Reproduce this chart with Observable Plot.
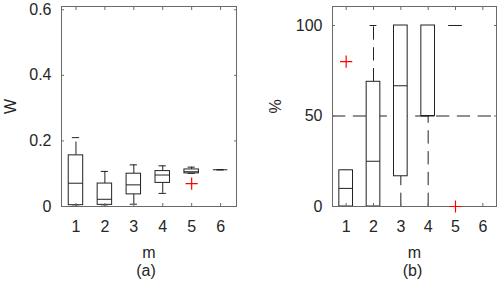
<!DOCTYPE html>
<html><head><meta charset="utf-8">
<script src="https://cdn.jsdelivr.net/npm/d3@7"></script>
<script src="https://cdn.jsdelivr.net/npm/@observablehq/plot@0.6"></script>
<style>
html,body{margin:0;padding:0;background:#fff;}
#wrap{display:flex;width:500px;height:284px;font-family:"Liberation Sans",Arial,sans-serif;}
.panel{width:250px;height:284px;}
.panel svg{display:block;}
.cap{height:22px;line-height:17px;text-align:center;font-size:16px;color:#262626;}
</style></head><body><div id="wrap"></div>
<script>
// categories
const mCats = [1, 2, 3, 4, 5, 6];

// panel (a): W
const wMin = [0.001, 0.001, 0.007, 0.040, 0.101, 0.112];
const wQ1  = [0.004, 0.005, 0.037, 0.072, 0.101, 0.112];
const wMed = [0.071, 0.022, 0.066, 0.096, 0.106, 0.112];
const wQ3  = [0.156, 0.070, 0.100, 0.108, 0.113, 0.112];
const wMax = [0.210, 0.107, 0.127, 0.124, 0.120, 0.112];
const wOutM = [5];
const wOutV = [0.070];
const wTicks = [0, 0.2, 0.4, 0.6];
const wTickLabels = ["0", "0.2", "0.4", "0.6"];

// panel (b): %
const pMin = [0, 0, 0, 0, 100, 0];
const pQ1  = [0, 0, 16.7, 50, 100, 0];
const pMed = [10, 25, 66.7, 50, 100, 0];
const pQ3  = [20, 68.9, 100, 100, 100, 0];
const pMax = [20, 100, 100, 100, 100, 0];
const pOutM = [1, 5];
const pOutV = [80, 0];
const pTicks = [0, 50, 100];
const pTickLabels = ["0", "50", "100"];
const pRef = [50];

const ink = "#262626";
const boxInk = "#222";
const frameInk = "#6a6a6a";
const dash = "13.3,7.5";
const fs = 16;

function rows(mn, q1, md, q3, mx) {
  return mCats.map((m, i) => ({m, min: mn[i], q1: q1[i], med: md[i], q3: q3[i], max: mx[i]}));
}
function outs(ms, vs) { return ms.map((m, i) => ({m, v: vs[i]})); }

function boxMarks(data) {
  return [
    Plot.ruleX(data, {x: "m", y1: "q3", y2: "max", stroke: boxInk, strokeDasharray: dash}),
    Plot.ruleX(data, {x: "m", y1: "min", y2: "q1", stroke: boxInk, strokeDasharray: dash}),
    Plot.ruleY(data, {y: "max", x1: d => d.m - 0.125, x2: d => d.m + 0.125, stroke: boxInk}),
    Plot.ruleY(data, {y: "min", x1: d => d.m - 0.125, x2: d => d.m + 0.125, stroke: boxInk}),
    Plot.rect(data.filter(d => d.q3 > d.q1), {x1: d => d.m - 0.25, x2: d => d.m + 0.25, y1: "q1", y2: "q3", fill: "white", stroke: boxInk}),
    Plot.ruleY(data, {y: "med", x1: d => d.m - 0.25, x2: d => d.m + 0.25, stroke: boxInk})
  ];
}

function panel({data, out, ticks, tickLabels, yDomain, xDomain, marginLeft, marginRight, ylabel, labelOffsetY, extra}) {
  return Plot.plot({
    width: 250, height: 262,
    marginLeft, marginRight, marginTop: 6, marginBottom: 56,
    style: {fontFamily: "'Liberation Sans', Arial, sans-serif", fontSize: fs + "px", color: ink, background: "white", overflow: "visible"},
    x: {domain: xDomain},
    y: {domain: yDomain},
    marks: [
      ...(extra || []),
      ...boxMarks(data),
      Plot.frame({stroke: frameInk}),
      Plot.axisX({ticks: mCats, tickFormat: d => String(d), tickSize: -3, tickPadding: 17, stroke: frameInk, fill: ink, fontSize: fs, label: "m", labelAnchor: "center", labelOffset: 51, labelArrow: "none"}),
      Plot.axisX({anchor: "top", ticks: mCats, tickFormat: () => "", tickSize: -3, stroke: frameInk, label: null}),
      Plot.axisY({ticks, tickFormat: (d, i) => tickLabels[ticks.indexOf(d)], tickSize: -3, tickPadding: 13, stroke: frameInk, fill: ink, fontSize: fs, label: ylabel, labelAnchor: "center", labelOffset: labelOffsetY, labelArrow: "none"}),
      Plot.axisY({anchor: "right", ticks, tickFormat: () => "", tickSize: -3, stroke: frameInk, label: null}),
      Plot.dot(out, {x: "m", y: "v", symbol: "plus", r: 4, stroke: "red", strokeWidth: 1.2})
    ]
  });
}

const wrap = document.getElementById("wrap");

const pa = document.createElement("div"); pa.className = "panel";
pa.appendChild(panel({
  data: rows(wMin, wQ1, wMed, wQ3, wMax), out: outs(wOutM, wOutV),
  ticks: wTicks, tickLabels: wTickLabels, yDomain: [0, 0.61], xDomain: [0.5, 6.55],
  marginLeft: 61, marginRight: 14, ylabel: "W", labelOffsetY: 57
}));
const ca = document.createElement("div"); ca.className = "cap"; ca.style.paddingLeft = "42px"; ca.textContent = "(a)";
pa.appendChild(ca);

const pb = document.createElement("div"); pb.className = "panel";
pb.appendChild(panel({
  data: rows(pMin, pQ1, pMed, pQ3, pMax), out: outs(pOutM, pOutV),
  ticks: pTicks, tickLabels: pTickLabels, yDomain: [0, 110.5], xDomain: [0.5, 6.5],
  marginLeft: 82, marginRight: 4, ylabel: "%", labelOffsetY: 63,
  extra: [Plot.ruleY(pRef, {stroke: boxInk, strokeDasharray: dash})]
}));
const cb = document.createElement("div"); cb.className = "cap"; cb.style.paddingLeft = "75px"; cb.textContent = "(b)";
pb.appendChild(cb);

wrap.appendChild(pa);
wrap.appendChild(pb);
</script>
</body></html>
